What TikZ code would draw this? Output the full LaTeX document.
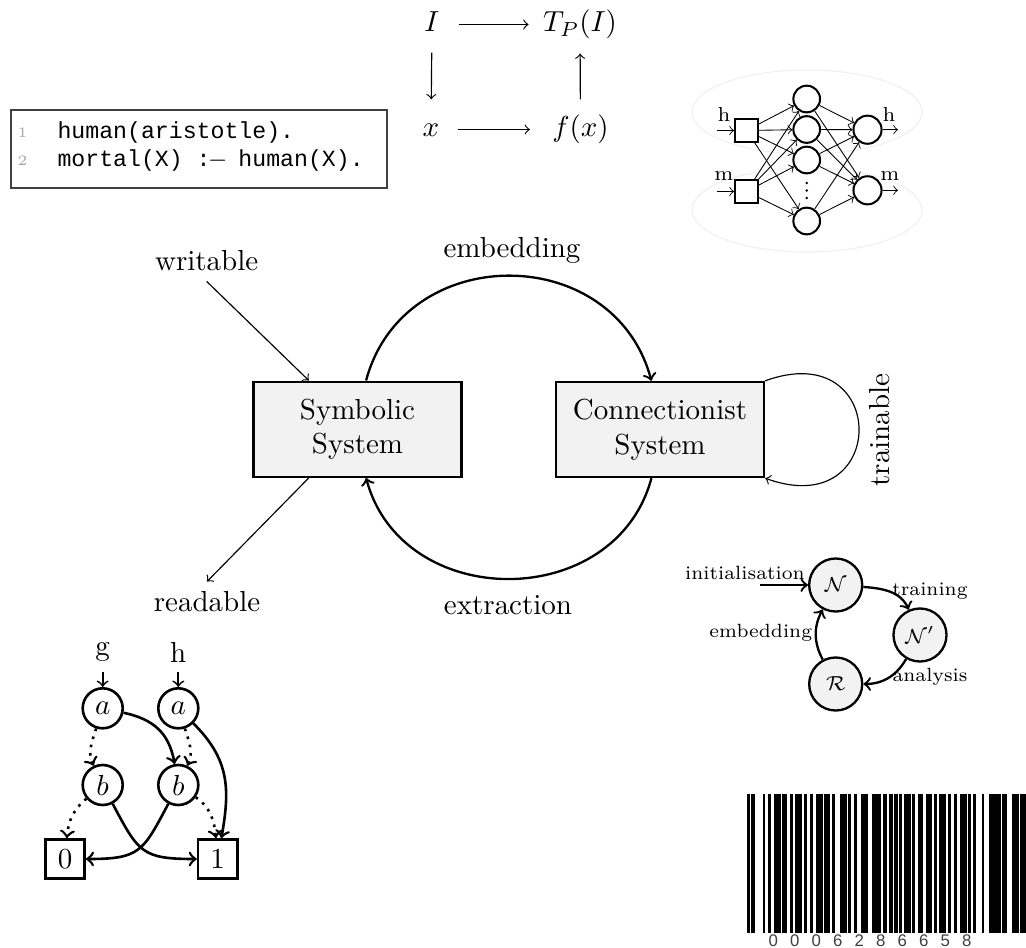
\documentclass[tikz,border=0pt]{standalone}
\usepackage{fontspec}
\newfontfamily\codefont{Liberation Mono}
\newfontfamily\barfont{Liberation Sans}
\begin{document}
\begin{tikzpicture}[x=0.345pt,y=0.345pt,
  sysbox/.style={draw, line width=0.8pt, fill=gray!10, minimum width=71.8pt, minimum height=32.8pt, align=center, inner sep=0},
  thinarrow/.style={->, line width=0.4pt},
  thickarrow/.style={->, line width=0.8pt},
  cdn/.style={inner sep=0, text height=7.5pt, text depth=2.5pt},
  cdarrow/.style={->, line width=0.4pt},
  codetext/.style={inner sep=0, anchor=west, font=\codefont\fontsize{8}{10}\selectfont},
  lineno/.style={inner sep=0, text=gray!70, font=\fontsize{5}{6}\selectfont},
  nnin/.style={draw, line width=0.7pt, minimum size=7.9pt, inner sep=0, fill=white},
  nnh/.style={circle, draw, line width=0.7pt, minimum size=9.2pt, inner sep=0, fill=white},
  nno/.style={circle, draw, line width=0.7pt, minimum size=9.7pt, inner sep=0, fill=white},
  nnedge/.style={->, line width=0.3pt},
  nnlab/.style={inner sep=0, font=\fontsize{7}{8}\selectfont},
  cyc/.style={circle, draw, line width=0.8pt, fill=gray!10, minimum size=18.3pt, inner sep=0, font=\fontsize{6.6}{8}\selectfont},
  smalltxt/.style={inner sep=0, font=\fontsize{6.6}{8}\selectfont},
  bddnode/.style={circle, draw, line width=0.9pt, minimum size=13.8pt, inner sep=0},
  bddterm/.style={rectangle, draw, line width=0.9pt, minimum size=13.5pt, inner sep=0},
  bddedge/.style={->, line width=0.9pt},
  digit/.style={inner sep=0, text=black!75, font=\barfont\fontsize{5.8}{6}\selectfont}
]
\useasboundingbox (0,0) rectangle (1026,-948);

% ---------- commutative diagram ----------
\node[cdn] (I) at (432,-24.5) {$I$};
\node[cdn] (TPI) at (580,-24.5) {$T_P(I)$};
\node[cdn] (X) at (431,-129.5) {$x$};
\node[cdn] (FX) at (580.5,-129.5) {$f(x)$};
\draw[cdarrow, shorten <=6.4pt, shorten >=4.8pt] (I) -- (TPI);
\draw[cdarrow, shorten <=6.1pt, shorten >=7.5pt] (X) -- (FX);
\draw[cdarrow, shorten <=4.5pt, shorten >=5.2pt] (I) -- (X);
\draw[cdarrow, shorten <=5.2pt, shorten >=4.8pt] (FX) -- (TPI);

% ---------- code box ----------
\draw[line width=0.4pt, black!75] (11,-110) rectangle (387,-188);
\node[lineno] (n1) at (22.5,-133) {1};
\node[lineno] (n2) at (22.5,-161) {2};
\node[codetext] (c1) at (57,-133) {human(aristotle).};
\node[codetext] (c2) at (57,-161) {mortal(X) :\makebox[4.8pt]{$-$} human(X).};

% ---------- neural network ----------
\draw[gray!12, line width=0.4pt] (807,-112) ellipse [x radius=39.7pt, y radius=14.5pt];
\draw[gray!12, line width=0.4pt] (807,-210) ellipse [x radius=39.7pt, y radius=14.5pt];
\node[nnin] (i1) at (746.5,-130.5) {};
\node[nnin] (i2) at (746.5,-191.5) {};
\node[nnh] (h1) at (806.7,-99) {};
\node[nnh] (h2) at (806.7,-129.5) {};
\node[nnh] (h3) at (806.7,-160) {};
\node[nnh] (h5) at (806.7,-221) {};
\node[nno] (o1) at (867.5,-129.7) {};
\node[nno] (o2) at (867.5,-190.3) {};
\foreach \yy in {183,190.5,198} \fill (806.7,-\yy) circle[radius=0.45pt];
\coordinate (ih) at (716.7,-130.5);
\coordinate (im) at (716.7,-191.5);
\coordinate (oh) at (898,-129.7);
\coordinate (om) at (898,-190.3);
\foreach \s in {i1,i2} \foreach \t in {h1,h2,h3,h5} \draw[nnedge] (\s) -- (\t);
\foreach \s in {h1,h2,h3,h5} \foreach \t in {o1,o2} \draw[nnedge] (\s) -- (\t);
\draw[nnedge] (ih) -- (i1);
\draw[nnedge] (im) -- (i2);
\draw[nnedge] (o1) -- (oh);
\draw[nnedge] (o2) -- (om);
\node[nnlab] (lh1) at (724,-114) {h};
\node[nnlab] (lm1) at (724,-176) {m};
\node[nnlab] (lh2) at (889,-114) {h};
\node[nnlab] (lm2) at (890,-176) {m};

% ---------- main diagram ----------
\node[sysbox] (sym) at (357.5,-429.2) {Symbolic\\System};
\node[sysbox] (con) at (660,-429.5) {Connectionist\\System};
\node (wr) at (206.7,-261) {writable};
\node (rd) at (207,-602) {readable};
\node (emb) at (512,-250) {embedding};
\node (ext) at (508,-605) {extraction};
\node[rotate=90] (tr) at (880,-430) {trainable};
\draw[thinarrow] (wr.south) -- (sym.135);
\draw[thinarrow] (sym.225) -- (rd.north);
\draw[thickarrow] (sym.80) to[out=75,in=105,looseness=1.3] (con.100);
\draw[thickarrow] (con.260) to[out=-105,in=-75,looseness=1.25] (sym.280);
\draw[thinarrow] (con.north east) to[out=20,in=-20,looseness=3.5] (con.south east);

% ---------- small cycle ----------
\node[cyc] (N) at (835.7,-585) {$\mathcal{N}$};
\node[cyc] (Np) at (920,-635) {$\mathcal{N}'$};
\node[cyc] (R) at (835.7,-684) {$\mathcal{R}$};
\coordinate (ini) at (760,-585);
\node[smalltxt] (inilab) at (745,-573) {initialisation};
\node[smalltxt] (trlab) at (930,-590.7) {training};
\node[smalltxt] (anlab) at (930,-676.7) {analysis};
\node[smalltxt] (emlab) at (760.8,-633.3) {embedding};
\draw[thickarrow] (ini) -- (N);
\draw[thickarrow] (N) to[out=-4,in=114] (Np);
\draw[thickarrow] (Np) to[out=-120,in=0] (R);
\draw[thickarrow] (R) to[out=118,in=-118] (N);

% ---------- BDD ----------
\node (g) at (102.7,-652) {g};
\node (h) at (178.3,-652) {h};
\node[bddnode] (a1) at (102.7,-708.3) {$a$};
\node[bddnode] (a2) at (178.3,-708.3) {$a$};
\node[bddnode] (b1) at (102.7,-785) {$b$};
\node[bddnode] (b2) at (178.3,-785) {$b$};
\node[bddterm] (t0) at (65,-859) {0};
\node[bddterm] (t1) at (217.7,-859) {1};
\draw[->, line width=0.6pt] (g) -- (a1);
\draw[->, line width=0.6pt] (h) -- (a2);
\draw[bddedge, dotted] (a1) to[out=-108,in=115] (b1);
\draw[bddedge, dotted] (a2) to[out=-72,in=65] (b2);
\draw[bddedge] (a1) to[out=-12,in=100,looseness=1.1] (b2);
\draw[bddedge] (a2) to[out=-45,in=80,looseness=1.1] (t1);
\draw[bddedge, dotted] (b1) to[out=-140,in=85] (t0);
\draw[bddedge, dotted] (b2) to[out=-35,in=95] (t1);
\draw[bddedge] (b1) to[out=-62,in=180,looseness=1.4] (t1);
\draw[bddedge] (b2) to[out=-118,in=0,looseness=1.4] (t0);

% ---------- barcode ----------
\foreach \a/\b in {52/58, 64/72, 100/104, 116/122, 132/150, 156/170, 180/186, 196/214, 222/230, 240/246, 260/278, 284/298, 308/314, 330/348, 356/362, 372/378, 394/412, 426/430, 434/452, 460/468, 478/486, 494/502, 508/514, 522/540, 548/554, 564/578, 588/604, 612/618, 628/646, 654/660, 674/680, 690/708, 716/722, 730/736, 756/760, 778/792, 796/812, 818/830, 848/866, 870/876, 880/888}
  \fill (730+\a/3-0.5,-794) rectangle (730+\b/3+0.5,-933);
\foreach \d [count=\i] in {0,0,0,6,2,8,6,6,5,8}
  \node[digit] (dg\i) at ({773.3+(\i-1)*21.5},-941) {\d};
\end{tikzpicture}
\end{document}
